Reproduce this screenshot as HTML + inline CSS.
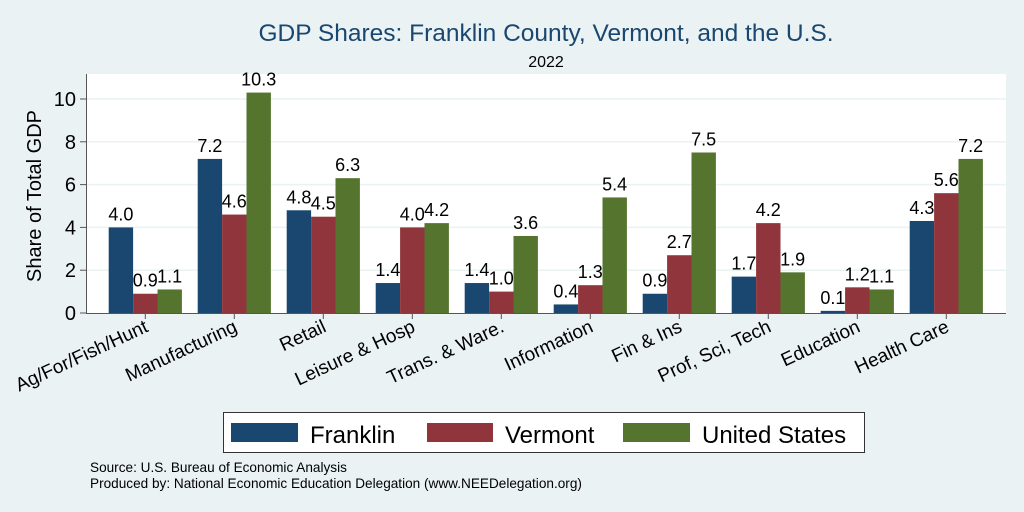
<!DOCTYPE html>
<html><head><meta charset="utf-8"><style>
body{margin:0;background:#eaf2f3;}
svg{display:block;font-family:"Liberation Sans",Arial,sans-serif;}
</style></head><body>
<svg id="chart" width="1024" height="512" viewBox="0 0 1024 512">
<rect x="0" y="0" width="1024" height="512" fill="#eaf2f3"/>
<text x="546" y="41" font-size="24.5" fill="#1a476f" text-anchor="middle">GDP Shares: Franklin County, Vermont, and the U.S.</text>
<text x="546" y="67" font-size="16" fill="#000" text-anchor="middle">2022</text>
<rect x="87" y="74" width="919" height="239" fill="#fff"/>
<g id="grid"></g>
<g id="bars"></g>
<g id="labels"></g>
<line x1="86.5" y1="74" x2="86.5" y2="313.5" stroke="#555" stroke-width="1"/>
<line x1="86" y1="313.5" x2="1006" y2="313.5" stroke="#555" stroke-width="1"/>
<text transform="translate(41,196) rotate(-90)" font-size="20" text-anchor="middle">Share of Total GDP</text>
<g>
<rect x="223.5" y="412.5" width="641" height="40" fill="#fff" stroke="#333"/>
<rect x="231" y="423" width="67" height="19" fill="#1a476f"/>
<text x="310" y="443" font-size="24">Franklin</text>
<rect x="427" y="423" width="66" height="19" fill="#90353b"/>
<text x="505" y="443" font-size="24">Vermont</text>
<rect x="623" y="423" width="67" height="19" fill="#55752f"/>
<text x="702" y="443" font-size="24">United States</text>
</g>
<text x="90" y="472" font-size="13.6">Source: U.S. Bureau of Economic Analysis</text>
<text x="90" y="488" font-size="13.6">Produced by: National Economic Education Delegation (www.NEEDelegation.org)</text>
</svg>
<script>
const categories=["Ag/For/Fish/Hunt","Manufacturing","Retail","Leisure & Hosp","Trans. & Ware.","Information","Fin & Ins","Prof, Sci, Tech","Education","Health Care"];
const franklin=[4.0,7.2,4.8,1.4,1.4,0.4,0.9,1.7,0.1,4.3];
const vermont=[0.9,4.6,4.5,4.0,1.0,1.3,2.7,4.2,1.2,5.6];
const unitedStates=[1.1,10.3,6.3,4.2,3.6,5.4,7.5,1.9,1.1,7.2];
const yTicks=[0,2,4,6,8,10];
const NS="http://www.w3.org/2000/svg";
const y0=313,pxPerUnit=21.4,x0=108.7,groupStep=89,barW=24.4;
const yScale=v=>y0-v*pxPerUnit;
const groupX=i=>x0+i*groupStep;
const grid=document.getElementById('grid'),bars=document.getElementById('bars'),labels=document.getElementById('labels');
function mk(tag,attrs,parent){const e=document.createElementNS(NS,tag);for(const k in attrs)e.setAttribute(k,attrs[k]);parent.appendChild(e);return e;}
yTicks.forEach(t=>{
  const y=yScale(t);
  if(t>0){const g=mk('line',{x1:87,x2:1006,y1:y,y2:y,stroke:'#eaf2f3','stroke-width':1.5},grid);
  
  }
  const tk=mk('line',{x1:80,x2:86,y1:y,y2:y,stroke:'#555'},labels);
  
  
  const tl=mk('text',{x:76,y:y+7,'font-size':20,'text-anchor':'end'},labels);
  tl.textContent=t;
  
  
});
const series=[[franklin,'#1a476f','franklin'],[vermont,'#90353b','vermont'],[unitedStates,'#55752f','us']];
categories.forEach((c,i)=>{
  series.forEach(([vals,col,nm],s)=>{
    const x=groupX(i)+s*barW,v=vals[i];
    const r=mk('rect',{x:x,y:yScale(v),width:barW,height:v*pxPerUnit,fill:col},bars);
    
    
    const t=mk('text',{x:x+barW/2,y:yScale(v)-7,'font-size':18,'text-anchor':'middle'},labels);
    t.textContent=v.toFixed(1);
    
    
  });
  const cx=groupX(i)+1.5*barW;
  const tk=mk('line',{x1:cx,x2:cx,y1:313,y2:319,stroke:'#555'},labels);
  
  
  const l=mk('text',{transform:`translate(${cx+4},${331}) rotate(-25)`,'font-size':19,'text-anchor':'end'},labels);
  l.textContent=c;
  
  
});
</script>
</body></html>
